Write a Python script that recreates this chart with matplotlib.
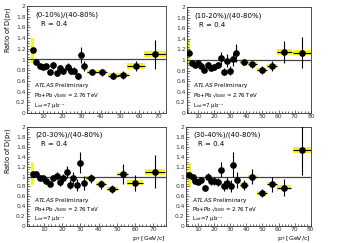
import matplotlib
matplotlib.use("Agg")
import matplotlib.pyplot as plt
from matplotlib.patches import Rectangle
from matplotlib.ticker import MultipleLocator
import numpy as np

W, H = 339, 243

titles = ["(0-10%)/(40-80%)", "(10-20%)/(40-80%)", "(20-30%)/(40-80%)", "(30-40%)/(40-80%)"]

x_tl = [4.8, 6.6, 8.6, 10.3, 11.7, 13.8, 15.5, 17.2, 19.0, 20.7, 22.9, 24.5, 26.2, 28.1, 29.8, 31.6, 35.3, 40.5, 46.6, 51.7, 58.3, 68.1]
x_bl = [3.8, 5.6, 7.8, 9.3, 11.1, 13.3, 15.1, 16.9, 18.8, 20.6, 22.4, 24.4, 26.1, 27.9, 29.9, 32.1, 35.6, 41.3, 47.5, 53.2, 59.9, 70.9]
x_r = [4.5, 6.6, 8.2, 9.9, 12.0, 14.0, 16.1, 18.2, 20.2, 22.3, 24.2, 26.0, 28.1, 30.2, 32.0, 33.9, 38.5, 43.8, 49.6, 55.9, 63.5, 74.5]
xerr = [0.9] * 16 + [2.6, 2.8, 3.0, 3.0, 4.5, 5.6]

y_010 = [1.17, 0.96, 0.87, 0.86, 0.87, 0.76, 0.89, 0.74, 0.84, 0.78, 0.86, 0.79, 0.79, 0.69, 1.08, 0.88, 0.76, 0.76, 0.70, 0.71, 0.88, 1.10]
e_010 = [0.02, 0.02, 0.02, 0.03, 0.03, 0.04, 0.06, 0.04, 0.05, 0.05, 0.07, 0.07, 0.07, 0.06, 0.15, 0.10, 0.05, 0.06, 0.06, 0.08, 0.10, 0.27]
s_010 = [0.23, 0.04, 0.02, 0.02, 0.02, 0.02, 0.03, 0.02, 0.02, 0.02, 0.02, 0.02, 0.02, 0.02, 0.03, 0.03, 0.04, 0.04, 0.04, 0.04, 0.05, 0.06]

y_1020 = [1.14, 0.95, 0.90, 0.94, 0.88, 0.81, 0.91, 0.85, 0.87, 0.90, 1.03, 0.78, 0.99, 0.80, 1.01, 1.14, 0.96, 0.92, 0.81, 0.89, 1.15, 1.14]
e_1020 = [0.02, 0.02, 0.02, 0.03, 0.03, 0.04, 0.06, 0.05, 0.05, 0.06, 0.12, 0.07, 0.12, 0.08, 0.12, 0.17, 0.06, 0.07, 0.07, 0.10, 0.20, 0.30]
s_1020 = [0.24, 0.04, 0.02, 0.02, 0.02, 0.02, 0.03, 0.02, 0.02, 0.02, 0.02, 0.02, 0.02, 0.02, 0.03, 0.03, 0.04, 0.04, 0.04, 0.04, 0.05, 0.05]

y_2030 = [1.05, 1.05, 0.97, 0.97, 0.90, 0.84, 0.97, 1.02, 0.89, 0.97, 1.09, 0.83, 0.97, 0.82, 1.28, 0.87, 0.96, 0.84, 0.74, 1.05, 0.87, 1.10]
e_2030 = [0.02, 0.02, 0.03, 0.03, 0.04, 0.04, 0.07, 0.08, 0.08, 0.08, 0.12, 0.09, 0.12, 0.12, 0.21, 0.15, 0.10, 0.09, 0.08, 0.20, 0.17, 0.33]
s_2030 = [0.23, 0.04, 0.02, 0.02, 0.02, 0.02, 0.03, 0.02, 0.02, 0.02, 0.02, 0.02, 0.02, 0.02, 0.03, 0.03, 0.04, 0.04, 0.04, 0.04, 0.05, 0.06]

y_3040 = [1.03, 1.00, 0.91, 0.89, 0.92, 0.77, 1.00, 0.90, 0.90, 0.88, 1.14, 0.80, 0.86, 0.81, 1.24, 0.93, 0.83, 1.00, 0.66, 0.84, 0.77, 1.54]
e_3040 = [0.02, 0.02, 0.03, 0.03, 0.04, 0.05, 0.08, 0.08, 0.08, 0.08, 0.15, 0.10, 0.12, 0.12, 0.25, 0.16, 0.10, 0.15, 0.08, 0.15, 0.17, 0.50]
s_3040 = [0.24, 0.04, 0.02, 0.02, 0.02, 0.02, 0.03, 0.02, 0.02, 0.02, 0.02, 0.02, 0.02, 0.02, 0.03, 0.03, 0.04, 0.04, 0.04, 0.04, 0.05, 0.06]

panels = [
    ((27, 166, 6, 113), (1.9, 73.8), x_tl, y_010, e_010, s_010, titles[0], True, False),
    ((187, 311, 7, 113), (3.4, 80.0), x_r, y_1020, e_1020, s_1020, titles[1], False, False),
    ((27, 166, 127, 226), (0.7, 76.9), x_bl, y_2030, e_2030, s_2030, titles[2], True, True),
    ((186, 311, 127, 226), (2.5, 80.2), x_r, y_3040, e_3040, s_3040, titles[3], False, True),
]

fig = plt.figure(figsize=(W / 100, H / 100), dpi=100)
fig.patch.set_facecolor("white")

for (l, r, t, b), xl, xs, ys, es, ss, title, ylab, xlab in panels:
    ax = fig.add_axes([l / W, 1 - b / H, (r - l) / W, (b - t) / H])
    ax.set_xlim(*xl)
    ax.set_ylim(0, 2)
    for xi, yi, wi, si in zip(xs, ys, xerr, ss):
        ax.add_patch(Rectangle((xi - wi, yi - si), 2 * wi, 2 * si,
                               facecolor="#f5f51a", edgecolor="none", zorder=1))
    ax.axhline(1.0, color="#444444", lw=0.9, zorder=2)
    ax.errorbar(xs, ys, yerr=es, xerr=xerr, fmt="o", color="black", ms=3.8,
                elinewidth=0.8, capsize=0, zorder=3)
    ax.xaxis.set_minor_locator(MultipleLocator(2))
    ax.yaxis.set_minor_locator(MultipleLocator(0.05))
    ax.tick_params(which="both", direction="in", top=False, right=False,
                   labelsize=4.3, pad=1, width=0.5, colors="#333333")
    ax.tick_params(which="major", length=2.5)
    ax.tick_params(which="minor", length=1.3)
    ax.set_yticks(np.arange(0, 2.01, 0.2))
    ax.set_yticklabels(["0", "0.2", "0.4", "0.6", "0.8", "1", "1.2", "1.4", "1.6", "1.8", "2"])
    xt = [v for v in range(10, 90, 10) if xl[0] < v <= xl[1] + 0.3]
    ax.set_xticks(xt)
    ax.set_xticklabels([str(v) for v in xt])
    for sp in ax.spines.values():
        sp.set_linewidth(0.6)
        sp.set_color("#333333")
    ax.text(0.06, 0.95, title, transform=ax.transAxes, fontsize=5.0, va="top", ha="left")
    ax.text(0.10, 0.86, "R = 0.4", transform=ax.transAxes, fontsize=5.0, va="top", ha="left")
    ax.text(0.05, 0.215, r"$\bf\it{ATLAS}$ Preliminary", transform=ax.transAxes,
            fontsize=4.2, va="bottom", ha="left")
    ax.text(0.05, 0.125, "Pb+Pb √s$_{NN}$ = 2.76 TeV", transform=ax.transAxes,
            fontsize=3.9, va="bottom", ha="left")
    ax.text(0.05, 0.03, "L$_{int}$=7 μb⁻¹", transform=ax.transAxes,
            fontsize=3.9, va="bottom", ha="left")
    if ylab:
        ax.set_ylabel(r"Ratio of D(p$_{T}$)", fontsize=4.8, loc="top", labelpad=2.5)
    if xlab:
        ax.set_xlabel(r"p$_{T}$ [GeV/c]", fontsize=4.5, loc="right", labelpad=1)

fig.savefig("out.png", dpi=100, facecolor="white")
